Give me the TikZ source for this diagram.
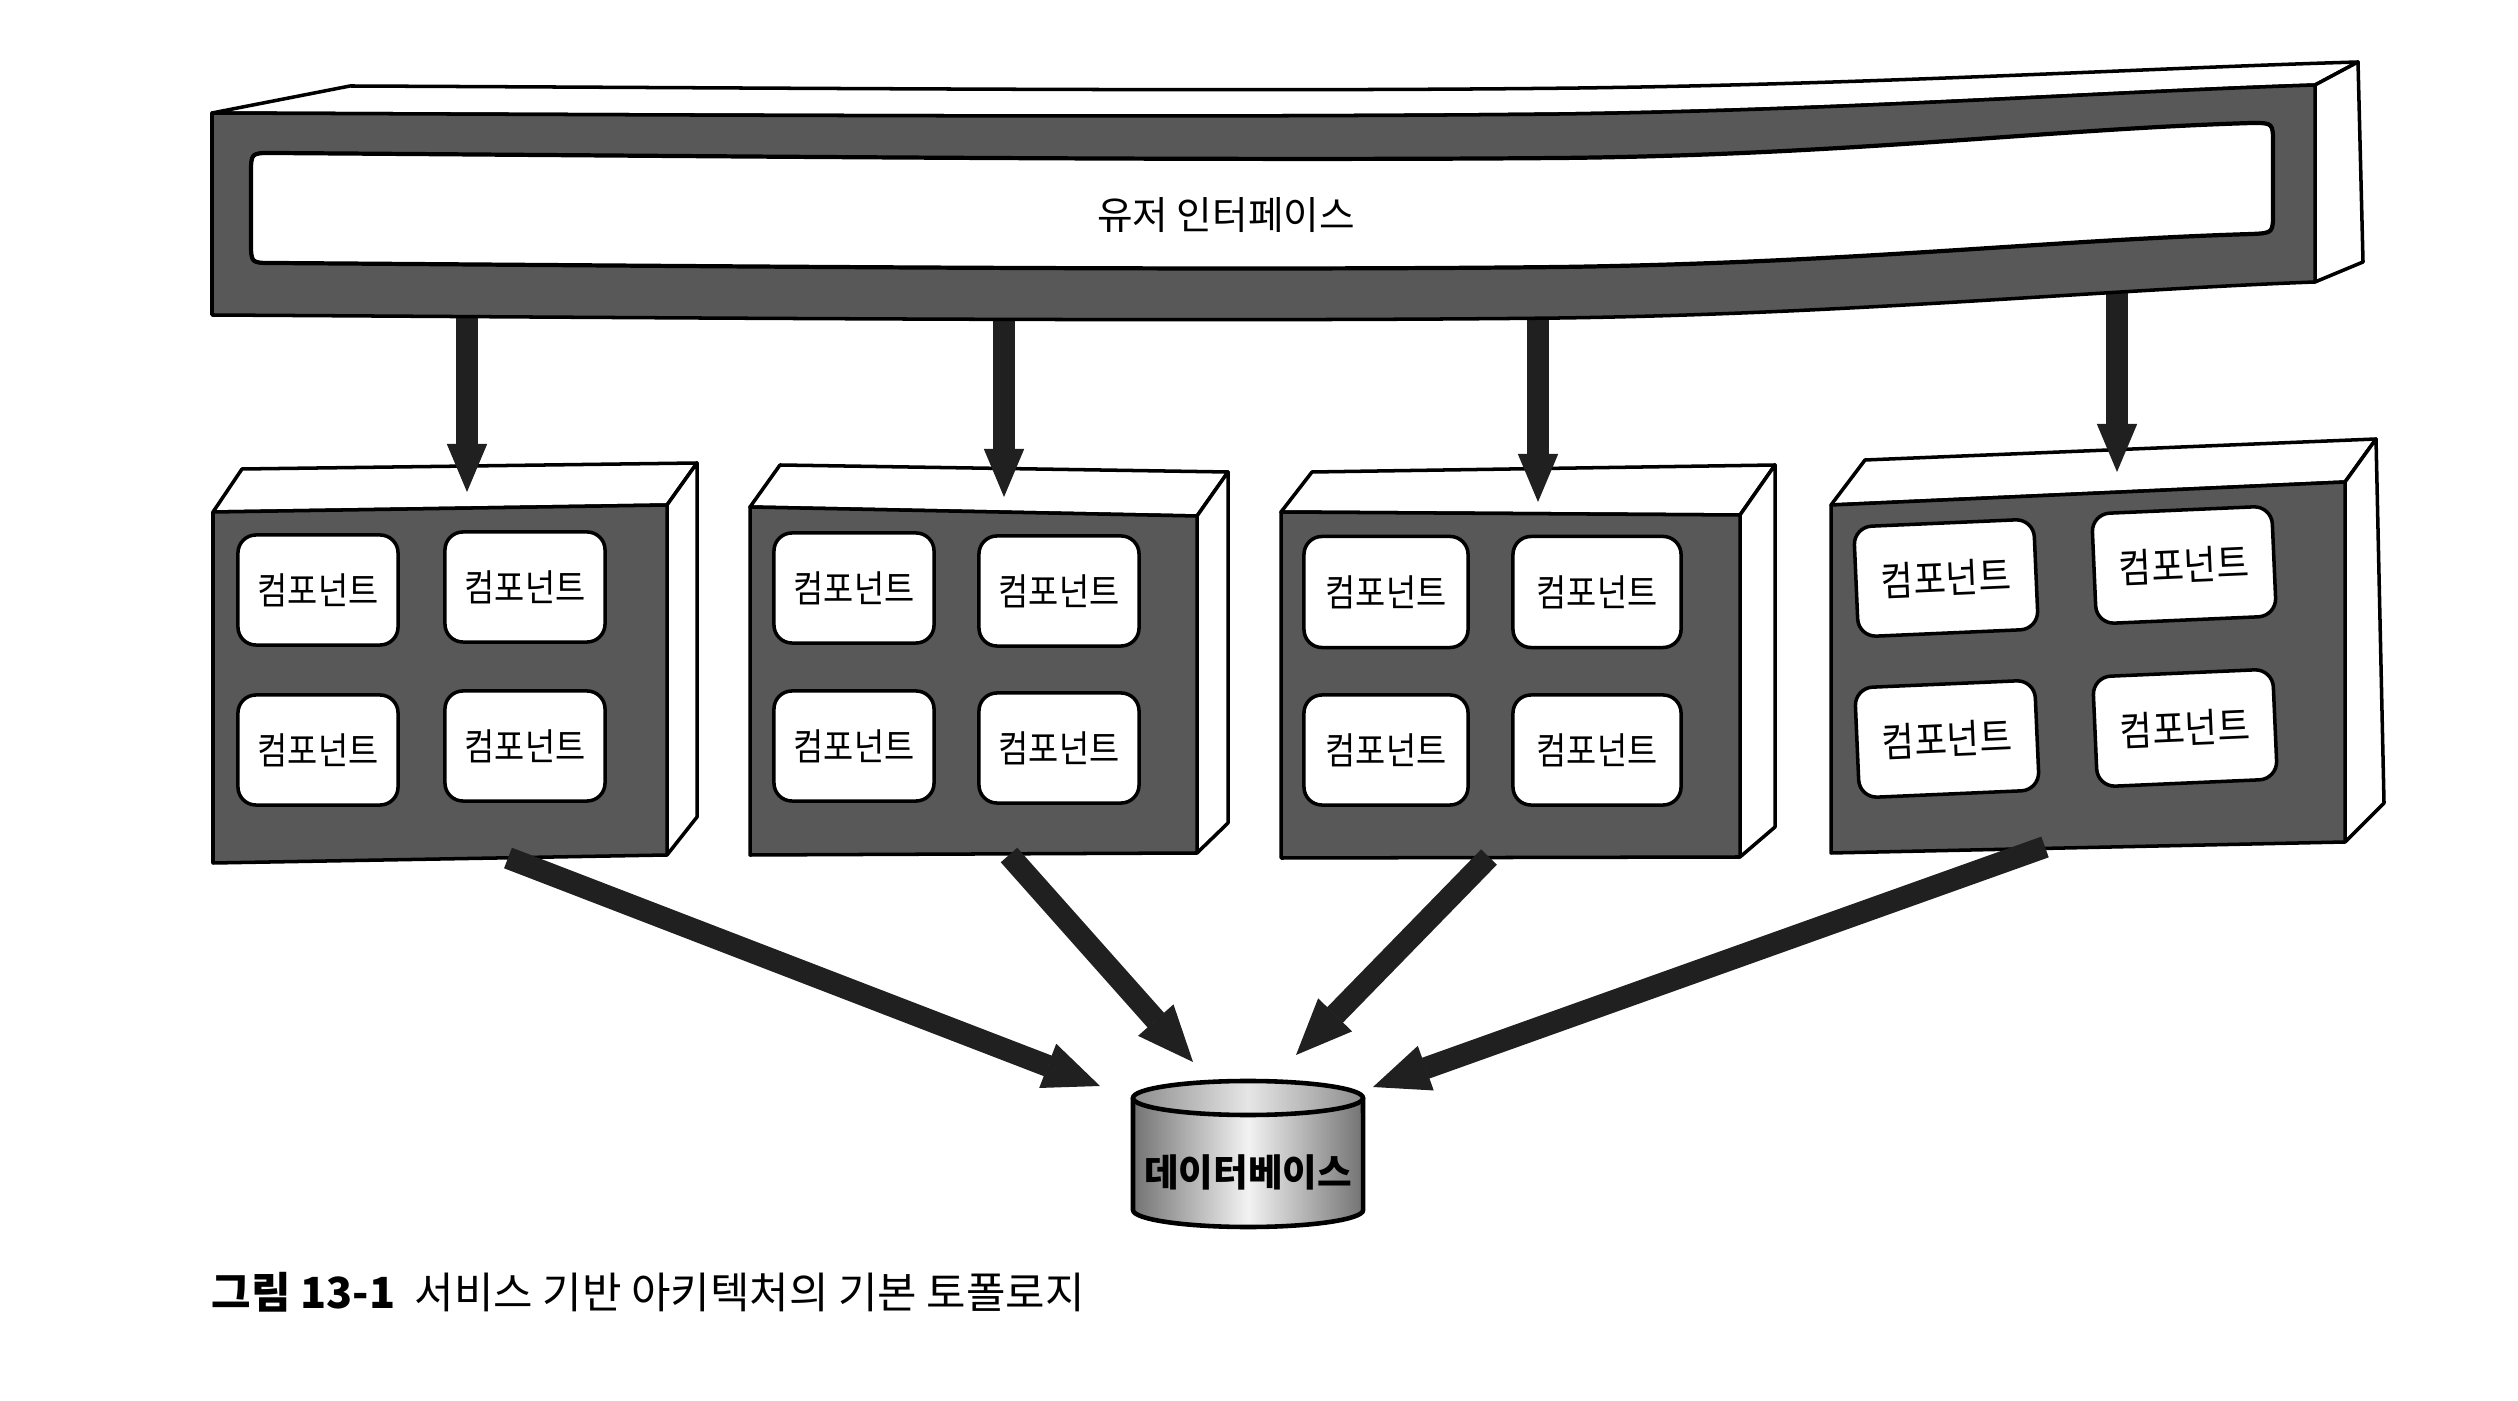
\documentclass[tikz,border=0pt]{standalone}
\usepackage{fontspec}
\setmainfont{Noto Sans CJK KR}
\newfontfamily\kr{Noto Sans CJK KR}
\newfontfamily\krc[FakeStretch=0.88]{Noto Sans CJK KR}
\usetikzlibrary{arrows.meta}
\definecolor{facegray}{RGB}{88,88,88}
\definecolor{arrowblack}{RGB}{32,32,32}
\tikzset{
  face/.style={fill=facegray, draw=black, line width=1pt, line join=round},
  side/.style={fill=white, draw=black, line width=1pt, line join=round},
  comp/.style={draw=black, fill=white, line width=1pt, rounded corners=0.18cm,
    minimum width=1.6cm, minimum height=1.1cm, inner sep=0pt,
    font=\krc\fontsize{10.6}{12}\selectfont},
  uiarrow/.style={line width=0.22cm, draw=arrowblack,
    -{Triangle[width=0.40cm,length=0.48cm,line width=0.4pt]}},
  dbarrow/.style={line width=0.22cm, draw=arrowblack,
    -{Triangle[width=0.47cm,length=0.56cm,line width=0.4pt]}},
}
\begin{document}
\begin{tikzpicture}[x=0.01cm,y=-0.01cm]
\fill[white] (0,0) rectangle (2518,1401);
\useasboundingbox (0,0) rectangle (2518,1401);

% ---------- service 1 ----------
\draw[side] (242,469) -- (697,463) -- (667,505) -- (213,512) -- cycle;
\draw[side] (667,505) -- (697,463) -- (697,817) -- (667,855) -- cycle;
\draw[face] (213,512) -- (667,505) -- (667,855) -- (213,863) -- cycle;
\node[comp] (c1a) at (318,590) {컴포넌트};
\node[comp] (c1b) at (525,587) {컴포넌트};
\node[comp] (c1c) at (318,750) {컴포넌트};
\node[comp] (c1d) at (525,746) {컴포넌트};

% ---------- service 2 ----------
\draw[side] (780,465) -- (1228,472) -- (1197,516) -- (750,507) -- cycle;
\draw[side] (1197,516) -- (1228,472) -- (1228,823) -- (1197,853) -- cycle;
\draw[face] (750,507) -- (1197,516) -- (1197,853) -- (750,855) -- cycle;
\node[comp] (c2a) at (854,588) {컴포넌트};
\node[comp] (c2b) at (1059,591) {컴포넌트};
\node[comp] (c2c) at (854,746) {컴포넌트};
\node[comp] (c2d) at (1059,748) {컴포넌트};

% ---------- service 3 ----------
\draw[side] (1312,472) -- (1775,465) -- (1740,515) -- (1281,512) -- cycle;
\draw[side] (1740,515) -- (1775,465) -- (1775,827) -- (1740,857) -- cycle;
\draw[face] (1281,512) -- (1740,515) -- (1740,857) -- (1281,858) -- cycle;
\node[comp, minimum width=1.64cm, minimum height=1.11cm] (c3a) at (1386,592) {컴포넌트};
\node[comp, minimum width=1.68cm, minimum height=1.11cm] (c3b) at (1597,592) {컴포넌트};
\node[comp, minimum width=1.64cm, minimum height=1.10cm] (c3c) at (1386,750) {컴포넌트};
\node[comp, minimum width=1.68cm, minimum height=1.10cm] (c3d) at (1597,750) {컴포넌트};

% ---------- service 4 ----------
\draw[side] (1865,460) -- (2376,439) -- (2345,482) -- (1831,505) -- cycle;
\draw[side] (2345,482) -- (2376,439) -- (2384,803) -- (2345,842) -- cycle;
\draw[face] (1831,505) -- (2345,482) -- (2345,842) -- (1831,853) -- cycle;
\begin{scope}[every node/.append style={comp, rotate=2.5, minimum width=1.8cm,
   minimum height=1.1cm, font=\krc\fontsize{11.4}{13}\selectfont}]
\node (c4a) at (1946,578) {컴포넌트};
\node (c4b) at (2184,565) {컴포넌트};
\node (c4c) at (1947,739) {컴포넌트};
\node (c4d) at (2185,728) {컴포넌트};
\end{scope}

% ---------- arrows from UI to services (start hidden under the bar) ----------
\coordinate (u1) at (467,280);
\coordinate (u2) at (1004,280);
\coordinate (u3) at (1538,280);
\coordinate (u4) at (2117,260);
\coordinate (s1in) at (467,492);
\coordinate (s2in) at (1004,497);
\coordinate (s3in) at (1538,502);
\coordinate (s4in) at (2117,472);
\draw[uiarrow] (u1) -- (s1in);
\draw[uiarrow] (u2) -- (s2in);
\draw[uiarrow] (u3) -- (s3in);
\draw[uiarrow] (u4) -- (s4in);

% ---------- user interface bar ----------
\draw[side] (212,113) -- (350,86)
  .. controls (800,88) and (1250,92) .. (1580,88)
  .. controls (1880,84) and (2150,68) .. (2358,62)
  -- (2315,85)
  .. controls (2100,92) and (1850,110) .. (1560,114)
  .. controls (1200,118) and (700,115) .. (212,113) -- cycle;
\draw[side] (2315,85) -- (2358,62) -- (2363,262) -- (2315,282) -- cycle;
\draw[face] (212,113)
  .. controls (700,115) and (1200,118) .. (1560,114)
  .. controls (1850,110) and (2100,92) .. (2315,85)
  -- (2315,282)
  .. controls (2100,290) and (1850,314) .. (1560,318)
  .. controls (1200,322) and (700,318) .. (212,315) -- cycle;
\draw[fill=white, draw=black, line width=1.2pt]
  (251,174) .. controls (251,153) .. (272,153)
  .. controls (700,156) and (1200,161) .. (1560,158)
  .. controls (1850,155) and (2050,129) .. (2252,123)
  .. controls (2273,123) .. (2273,144) -- (2273,212)
  .. controls (2273,233) .. (2252,234)
  .. controls (2050,240) and (1850,263) .. (1560,267)
  .. controls (1200,271) and (700,266) .. (272,263)
  .. controls (251,263) .. (251,242) -- cycle;
\node[font=\kr\fontsize{11}{13}\selectfont] (ui) at (1226,215) {유저 인터페이스};

% ---------- database ----------
\shade[left color=black!55, right color=black!55, middle color=black!5]
  (1133,1098) -- (1133,1210)
  arc[start angle=180, end angle=360, x radius=1.15cm, y radius=0.17cm]
  -- (1363,1098)
  arc[start angle=0, end angle=180, x radius=1.15cm, y radius=0.17cm] -- cycle;
\shade[left color=black!45, right color=black!45, middle color=black!10]
  (1248,1098) ellipse[x radius=1.15cm, y radius=0.17cm];
\draw[line width=1.3pt]
  (1133,1098) -- (1133,1210)
  arc[start angle=180, end angle=360, x radius=1.15cm, y radius=0.17cm]
  -- (1363,1098);
\draw[line width=1.3pt] (1248,1098) ellipse[x radius=1.15cm, y radius=0.17cm];
\node[font=\kr\bfseries\fontsize{10.7}{12}\selectfont] (db) at (1248,1172) {데이터베이스};

% ---------- arrows from services to database ----------
\coordinate (o1) at (508,858);
\coordinate (o2) at (1009,855);
\coordinate (o3) at (1489,857);
\coordinate (o4) at (2045,847);
\coordinate (d1) at (1100,1086);
\coordinate (d2) at (1193,1062);
\coordinate (d3) at (1296,1055);
\coordinate (d4) at (1373,1087);
\draw[dbarrow] (o1) -- (d1);
\draw[dbarrow] (o2) -- (d2);
\draw[dbarrow] (o3) -- (d3);
\draw[dbarrow] (o4) -- (d4);

% ---------- caption ----------
\node[anchor=west, inner sep=0pt, font=\kr\fontsize{12.2}{14}\selectfont] (cap) at (211,1292)
  {\textbf{그림 13-1}\hspace{0.1cm} 서비스 기반 아키텍처의 기본 토폴로지};
\end{tikzpicture}
\end{document}
